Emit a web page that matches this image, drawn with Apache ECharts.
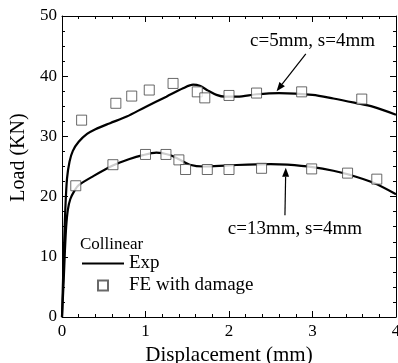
<!DOCTYPE html>
<html>
<head>
<meta charset="utf-8">
<script src="https://cdn.jsdelivr.net/npm/echarts@6/dist/echarts.min.js"></script>
<style>
  html, body { margin: 0; padding: 0; background: #fff; }
  #chart { width: 398px; height: 363px; }
</style>
</head>
<body>
<div id="chart"></div>
<script>
// c=5mm, s=4mm : experiment curve
const expDisp5 = [0, 0.01, 0.025, 0.04, 0.06, 0.09, 0.13, 0.2, 0.3, 0.4, 0.575, 0.775, 1.0, 1.25, 1.45, 1.57, 1.65, 1.75, 1.85, 1.95, 2.1, 2.33, 2.6, 3.0, 3.25, 3.5, 3.73, 4.0]
const expLoad5 = [0, 5, 12, 18, 23, 25.8, 27.6, 29.1, 30.4, 31.2, 32.2, 33.3, 34.9, 36.6, 38.0, 38.6, 38.4, 37.6, 36.9, 36.6, 36.6, 37.0, 37.2, 36.9, 36.3, 35.6, 34.9, 33.6]
// c=13mm, s=4mm : experiment curve
const expDisp13 = [0, 0.02, 0.035, 0.05, 0.07, 0.1, 0.15, 0.2, 0.375, 0.615, 0.8, 0.97, 1.13, 1.29, 1.4, 1.53, 1.7, 2.0, 2.5, 2.7, 3.0, 3.25, 3.45, 3.73, 4.0]
const expLoad13 = [0, 6, 11, 15, 17.8, 19.6, 21, 21.9, 23.4, 25.2, 26.2, 26.9, 27.3, 26.9, 26.2, 25.3, 25.0, 25.2, 25.4, 25.3, 24.9, 24.3, 23.6, 22.3, 20.4]
// FE with damage
const feDisp5 = [0.235, 0.645, 0.835, 1.045, 1.33, 1.62, 1.71, 2.0, 2.33, 2.87, 3.59]
const feLoad5 = [32.7, 35.5, 36.7, 37.7, 38.8, 37.4, 36.4, 36.8, 37.2, 37.4, 36.2]
const feDisp13 = [0.165, 0.61, 1.0, 1.245, 1.40, 1.48, 1.74, 2.0, 2.39, 2.99, 3.42, 3.77]
const feLoad13 = [21.8, 25.3, 27.0, 27.0, 26.1, 24.5, 24.5, 24.5, 24.7, 24.6, 23.9, 22.9]

const xTicks = [0, 1, 2, 3, 4]
const yTicks = [0, 10, 20, 30, 40, 50]

// annotations: [text, textAt, arrowFrom, arrowTo] in data units
const notes = [
  ['c=5mm, s=4mm', [3.0, 46.0], [2.92, 43.7], [2.57, 37.5]],
  ['c=13mm, s=4mm', [2.79, 14.8], [2.67, 16.9], [2.68, 24.8]]
]

const FONT = '"Liberation Serif", "DejaVu Serif", serif'
const zip = (a, b) => a.map((v, i) => [v, b[i]])

const chart = echarts.init(document.getElementById('chart'))

const lineStyle = { color: '#000', width: 2.2 }
const squareStyle = { color: '#fff', borderColor: '#444', borderWidth: 1 }

const baseAxis = {
  axisLine: { show: true, onZero: false, lineStyle: { color: '#000', width: 1 } },
  axisTick: { show: true, inside: true, length: 6, lineStyle: { color: '#000' } },
  minorTick: { show: true, length: 3, lineStyle: { color: '#000' } },
  splitLine: { show: false },
  minorSplitLine: { show: false }
}

const option = {
  backgroundColor: '#fff',
  animation: false,
  grid: { left: 62, right: 2, top: 16, bottom: 46, outerBoundsMode: 'none' },
  legend: {
    orient: 'vertical',
    left: 81,
    top: 254,
    padding: 0,
    itemWidth: 42,
    itemHeight: 10,
    itemGap: 3,
    textStyle: { fontFamily: FONT, fontSize: 19, color: '#000' },
    data: [
      { name: 'Exp', itemStyle: { color: 'rgba(0,0,0,0)', borderColor: 'rgba(0,0,0,0)', borderWidth: 0 } },
      { name: 'FE with damage', icon: 'path://M0,0h10v10h-10z' }
    ]
  },
  xAxis: [
    Object.assign({}, baseAxis, {
      type: 'value', min: 0, max: 4, interval: 1,
      minorTick: Object.assign({}, baseAxis.minorTick, { splitNumber: 5 }),
      axisLabel: { color: '#000', fontFamily: FONT, fontSize: 17, margin: 6,
        formatter: v => xTicks.includes(v) ? String(v) : '' },
      name: 'Displacement (mm)', nameLocation: 'middle', nameGap: 26,
      nameTextStyle: { fontFamily: FONT, fontSize: 21, color: '#000' }
    }),
    Object.assign({}, baseAxis, {
      type: 'value', min: 0, max: 4, interval: 1, position: 'top',
      minorTick: Object.assign({}, baseAxis.minorTick, { splitNumber: 5 }),
      axisLabel: { show: false }
    })
  ],
  yAxis: [
    Object.assign({}, baseAxis, {
      type: 'value', min: 0, max: 50, interval: 10,
      minorTick: Object.assign({}, baseAxis.minorTick, { splitNumber: 4 }),
      axisLabel: { color: '#000', fontFamily: FONT, fontSize: 17, margin: 5,
        formatter: v => yTicks.includes(v) ? String(v) : '' },
      name: 'Load (KN)', nameLocation: 'middle', nameGap: 32,
      nameTextStyle: { fontFamily: FONT, fontSize: 20, color: '#000', padding: [0, 0, 0, 18] }
    }),
    Object.assign({}, baseAxis, {
      type: 'value', min: 0, max: 50, interval: 10, position: 'right',
      minorTick: Object.assign({}, baseAxis.minorTick, { splitNumber: 4 }),
      axisLabel: { show: false }
    })
  ],
  series: [
    {
      name: 'Exp', type: 'line', data: zip(expDisp5, expLoad5),
      showSymbol: false, symbol: 'none', smooth: 0.3,
      lineStyle: lineStyle, itemStyle: { color: '#000' }, z: 2
    },
    {
      name: 'Exp', type: 'line', data: zip(expDisp13, expLoad13),
      showSymbol: false, symbol: 'none', smooth: 0.3,
      lineStyle: lineStyle, itemStyle: { color: '#000' }, z: 2
    },
    {
      name: 'FE with damage', type: 'scatter', data: zip(feDisp5, feLoad5),
      symbol: 'rect', symbolSize: 10, itemStyle: squareStyle, z: 3
    },
    {
      name: 'FE with damage', type: 'scatter', data: zip(feDisp13, feLoad13),
      symbol: 'rect', symbolSize: 10, itemStyle: squareStyle, z: 3
    }
  ]
}

chart.setOption(option)

// annotation texts and arrows, placed from data coordinates
const graphics = [{
  type: 'text', left: 80, top: 236,
  style: { text: 'Collinear', font: '17px ' + FONT, fill: '#000' }
}]
notes.forEach(n => {
  const t = chart.convertToPixel({ gridIndex: 0 }, n[1])
  const a = chart.convertToPixel({ gridIndex: 0 }, n[2])
  const b = chart.convertToPixel({ gridIndex: 0 }, n[3])
  graphics.push({
    type: 'text', x: t[0], y: t[1] + 1,
    style: { text: n[0], font: '19px ' + FONT, fill: '#000', align: 'center', verticalAlign: 'middle' }
  })
  const dx = b[0] - a[0], dy = b[1] - a[1]
  const len = Math.sqrt(dx * dx + dy * dy)
  const ux = dx / len, uy = dy / len
  const hl = 9, hw = 3.5
  const base = [b[0] - ux * hl, b[1] - uy * hl]
  graphics.push({
    type: 'line',
    shape: { x1: a[0], y1: a[1], x2: base[0], y2: base[1] },
    style: { stroke: '#000', lineWidth: 1.2 }
  })
  graphics.push({
    type: 'polygon',
    shape: { points: [b, [base[0] - uy * hw, base[1] + ux * hw], [base[0] + uy * hw, base[1] - ux * hw]] },
    style: { fill: '#000' }
  })
})
chart.setOption({ graphic: graphics })
</script>
</body>
</html>
